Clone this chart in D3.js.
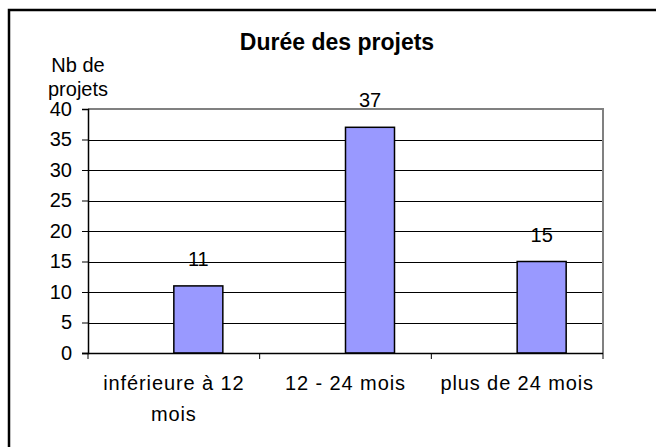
<!DOCTYPE html>
<html><head><meta charset="utf-8">
<script src="https://cdn.jsdelivr.net/npm/d3@7/dist/d3.min.js"></script>
<style>body{margin:0;background:#fff}svg{display:block}text{font-family:"Liberation Sans",Arial,sans-serif}</style>
</head><body>
<svg id="c" width="656" height="447"></svg>
<script>
const categories = [["inférieure à 12","mois"],["12 - 24 mois"],["plus de 24 mois"]];
const values = [11, 37, 15];
const yTicks = [0,5,10,15,20,25,30,35,40];
const title = "Durée des projets";
const yLabel = ["Nb de","projets"];

const svg = d3.select("#c");
const m = {l:88, r:603, t:109, b:353};
const keys = categories.map((c,i)=>i);
const x = d3.scaleBand().domain(keys).range([m.l, m.r]).paddingInner(0).paddingOuter(0);
const y = d3.scaleLinear().domain([0,40]).range([m.b, m.t]);
const bw = 49;
const barX = i => x(i) + x.bandwidth()*0.5;

// frame (left and top edges visible)
svg.append("rect").attr("x",9).attr("y",10).attr("width",700).attr("height",500)
  .attr("fill","#fff").attr("stroke","#000").attr("stroke-width",2.5);

// title
svg.append("text").attr("x",337).attr("y",50).attr("text-anchor","middle")
  .attr("font-size",23).attr("font-weight","bold").text(title);

// gridlines
svg.append("g").selectAll("line").data(yTicks.filter(d=>d>0 && d<40)).join("line")
  .attr("x1",m.l).attr("x2",m.r).attr("y1",d=>Math.round(y(d))+0.5).attr("y2",d=>Math.round(y(d))+0.5)
  .attr("stroke","#000").attr("stroke-width",1);
// plot border top/right
svg.append("path").attr("d",`M${m.l},${m.t}H${m.r}V${m.b}`).attr("fill","none")
  .attr("stroke","#808080").attr("stroke-width",2);

// bars
svg.append("g").selectAll("rect").data(values).join("rect")
  .attr("x",(d,i)=>barX(i))
  .attr("y",d=>y(d)).attr("width",bw).attr("height",d=>y(0)-y(d))
  .attr("fill","#9999FF").attr("stroke","#000").attr("stroke-width",1.5);
// value labels
svg.append("g").selectAll("text").data(values).join("text")
  .attr("x",(d,i)=>barX(i)+bw/2).attr("y",d=>y(d)-20)
  .attr("text-anchor","middle").attr("font-size",20).text(d=>d);

// y axis
const ya = svg.append("g").attr("transform",`translate(${m.l},0)`)
  .call(d3.axisLeft(y).tickValues(yTicks).tickSize(6).tickPadding(10));
ya.select(".domain").attr("stroke","#000").attr("stroke-width",1.5);
ya.selectAll(".tick line").attr("stroke","#000");
ya.selectAll(".tick text").attr("font-size",20).attr("fill","#000").attr("font-family","Liberation Sans, Arial, sans-serif");

// x axis
const xa = svg.append("g").attr("transform",`translate(0,${m.b})`);
xa.append("line").attr("x1",m.l-6).attr("x2",m.r).attr("y1",0.5).attr("y2",0.5).attr("stroke","#000").attr("stroke-width",1.5);
xa.selectAll("line.t").data(keys.concat([keys.length])).join("line").attr("class","t")
  .attr("x1",d=>d<keys.length?x(d):m.r).attr("x2",d=>d<keys.length?x(d):m.r)
  .attr("y1",0).attr("y2",6).attr("stroke","#000");
xa.selectAll("text").data(categories).join("text")
  .attr("text-anchor","middle").attr("font-size",20).attr("letter-spacing",0.9)
  .attr("x",(d,i)=>x(i)+x.bandwidth()/2)
  .each(function(d){
    const t=d3.select(this);
    d.forEach((s,j)=>t.append("tspan").attr("x",t.attr("x")).attr("y",37+j*31).text(s));
  });

// y label
svg.append("text").attr("text-anchor","middle").attr("font-size",20).attr("x",78)
  .selectAll("tspan").data(yLabel).join("tspan").attr("x",78).attr("y",(d,i)=>72+i*24).text(d=>d);
</script>
</body></html>
